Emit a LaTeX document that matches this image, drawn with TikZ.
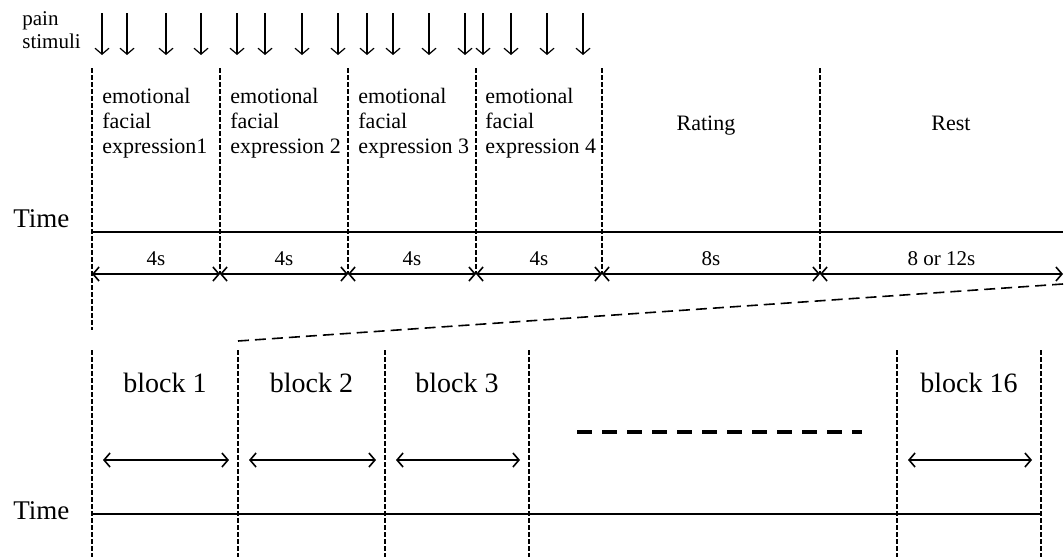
\documentclass[tikz,border=0pt]{standalone}
\usepackage{fontspec}
\setmainfont{Liberation Serif}
\usetikzlibrary{arrows.meta}

\begin{document}
\begin{tikzpicture}
			[x=0.5pt,y=-0.5pt,
			 >={Straight Barb[length=3pt,width=7pt]},
			 vline/.style={line width=0.6pt,dash pattern=on 2.5pt off 1pt},
			 axis/.style={line width=1pt},
			 span/.style={<->,line width=0.8pt},
			 txt/.style={font=\fontsize{11}{12.5}\selectfont,inner sep=0pt,align=left,anchor=north west},
			 dur/.style={font=\fontsize{10.5}{12}\selectfont,inner sep=0pt,anchor=base},
			 blk/.style={font=\fontsize{14}{16}\selectfont,inner sep=0pt,anchor=base},
			 tm/.style={font=\fontsize{13.5}{16}\selectfont,inner sep=0pt,anchor=base west}]

			\useasboundingbox (0,0) rectangle (1064,557);

			% pain stimuli
			\node[txt,font=\fontsize{10.5}{11.8}\selectfont] (pain) at (22,11) {pain\\stimuli};
			\foreach \x [count=\i] in {102,127,166,201,237,265,302,338,367,393,429,465,483,511,547,583}
				{
				\coordinate (s\i) at (\x,13);
				\coordinate (p\i) at (\x,55);
				\draw[->,line width=0.6pt] (s\i) -- (p\i);
				}

			% one block in detail
			\foreach \x/\n in {92/0,220/1,348/2,476/3,602/4,820/5,1063/6}
				{
				\coordinate (u\n) at (\x,68);
				\coordinate (a\n) at (\x,274);
				\coordinate (l\n) at (\x,232);
				}
			\coordinate (u7) at (92,330);
			\foreach \n in {1,...,5} \draw[vline] (u\n) -- (a\n);
			\draw[vline] (u0) -- (u7);

			\draw[axis] (l0) -- (l6);
			\node[tm] (time1) at (13,227) {Time};

			\foreach \a/\b/\t in {0/1/4s,1/2/4s,2/3/4s,3/4/4s,4/5/8s,5/6/8 or 12s}
				\draw[span] (a\a) -- node[dur,midway,yshift=4.5pt] {\t} (a\b);

			\node[txt] (e1) at (102,88) {emotional\\facial\\expression1};
			\node[txt] (e2) at (230,88) {emotional\\facial\\expression 2};
			\node[txt] (e3) at (358,88) {emotional\\facial\\expression 3};
			\node[txt] (e4) at (485,88) {emotional\\facial\\expression 4};
			\node[dur,font=\fontsize{11}{12.5}\selectfont] (rating) at (706,130) {Rating};
			\node[dur,font=\fontsize{11}{12.5}\selectfont] (rest) at (951,130) {Rest};

			% zoom line
			\coordinate (z0) at (238,341);
			\coordinate (z1) at (1063,284);
			\draw[line width=0.8pt,dash pattern=on 5.5pt off 3pt] (z0) -- (z1);

			% all blocks
			\foreach \x/\n in {92/0,238/1,385/2,529/3,897/4,1041/5}
				{
				\coordinate (b\n) at (\x,350);
				\coordinate (c\n) at (\x,557);
				\coordinate (t\n) at (\x,514);
				\coordinate (h\n) at (\x,460);
				\coordinate (k\n) at (\x,392);
				\draw[vline] (b\n) -- (c\n);
				}
			\draw[axis] (t0) -- (t5);
			\node[tm] (time2) at (13,519) {Time};

			\foreach \a/\b/\t in {0/1/1,1/2/2,2/3/3,4/5/16}
				{
				\draw[span] ([xshift=5.5pt]h\a) -- ([xshift=-4.5pt]h\b);
				\path (k\a) -- node[blk,midway] (blk\t) {block \t} (k\b);
				}

			\coordinate (g0) at (577,432);
			\coordinate (g1) at (862,432);
			\draw[line width=2pt,dash pattern=on 7.5pt off 5pt] (g0) -- (g1);

		\end{tikzpicture}
\end{document}
